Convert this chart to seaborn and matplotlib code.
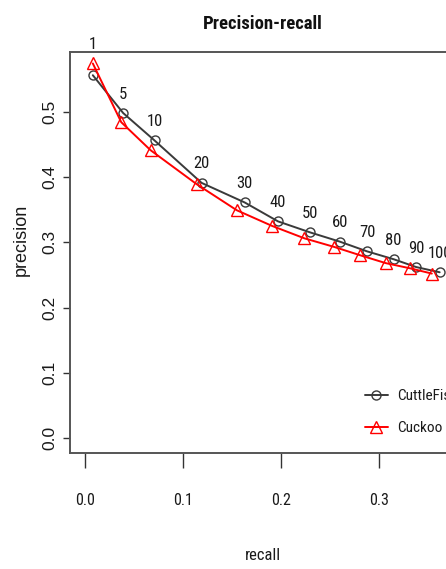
"""precision-recall: cuttlefish vs cuckoo, estilo plot base do R."""

import matplotlib

matplotlib.use("Agg")
import matplotlib.pyplot as plt
import pandas as pd
import seaborn as sns

# valores
k_labels = ["1", "5", "10", "20", "30", "40", "50", "60", "70", "80", "90", "100"]
cuttle_recall = [0.008, 0.039, 0.071, 0.119, 0.163, 0.197, 0.230, 0.260, 0.288, 0.315, 0.338, 0.362]
cuttle_precision = [0.556, 0.498, 0.456, 0.391, 0.361, 0.332, 0.315, 0.301, 0.286, 0.274, 0.262, 0.254]
cuckoo_recall = [0.008, 0.037, 0.067, 0.114, 0.155, 0.191, 0.224, 0.254, 0.281, 0.307, 0.332, 0.354]
cuckoo_precision = [0.574, 0.484, 0.441, 0.389, 0.349, 0.325, 0.306, 0.293, 0.280, 0.268, 0.260, 0.252]
x_ticks = [0.0, 0.1, 0.2, 0.3]
y_ticks = [0.0, 0.1, 0.2, 0.3, 0.4, 0.5]

NARROW = ["Roboto Condensed", "Liberation Sans Narrow", "DejaVu Sans"]
WIDE = ["Liberation Sans", "DejaVu Sans"]
GRAY = "#3a3a3a"
RED = "#ff0000"
INK = "#1a1a1a"

sns.set_style("ticks")
plt.rcParams["font.family"] = NARROW
plt.rcParams["font.stretch"] = "condensed"

W, H = 446, 569
fig = plt.figure(figsize=(W / 100, H / 100), dpi=100)
# caixa do grafico passa da borda direita, como no recorte original
ax = fig.add_axes([70 / W, 1 - 453 / H, 402 / W, 401 / H])

cuttle = pd.DataFrame({"recall": cuttle_recall, "precision": cuttle_precision})
cuckoo = pd.DataFrame({"recall": cuckoo_recall, "precision": cuckoo_precision})

sns.lineplot(data=cuttle, x="recall", y="precision", ax=ax, color=GRAY, lw=1.4,
             marker="o", markersize=6.5, markerfacecolor="none", markeredgecolor=GRAY,
             markeredgewidth=1.0, label="CuttleFish", estimator=None, sort=False)
sns.lineplot(data=cuckoo, x="recall", y="precision", ax=ax, color=RED, lw=1.4,
             marker="^", markersize=8, markerfacecolor="none", markeredgecolor=RED,
             markeredgewidth=1.0, label="Cuckoo", estimator=None, sort=False)

for lab, x, y1, y2 in zip(k_labels, cuttle_recall, cuttle_precision, cuckoo_precision):
    ax.annotate(lab, (x, max(y1, y2)), xytext=(0, 19), textcoords="offset pixels",
                ha="center", va="center", fontsize=12, color=INK,
                annotation_clip=False)

ax.set_xlim(-0.0153, 0.395)
ax.set_ylim(-0.023, 0.5916)
ax.set_xticks(x_ticks)
ax.set_xticklabels([f"{v:.1f}" for v in x_ticks], fontsize=11.5)
ax.set_yticks(y_ticks)
ax.set_yticklabels([f"{v:.1f}" for v in y_ticks], family=WIDE, fontsize=12.5,
                   rotation=90, va="center", stretch="normal")
ax.tick_params(axis="x", length=10.8, width=1.0, color="#333333", pad=18, labelcolor=INK)
ax.tick_params(axis="y", length=5, width=1.0, color="#333333", pad=4, labelcolor=INK)
ax.set_xlabel("")
ax.set_ylabel("")
for sp in ax.spines.values():
    sp.set_color("#555555")
    sp.set_linewidth(1.4)

leg = ax.legend(loc="upper left", bbox_to_anchor=(365 / W, 1 - 389 / H),
                bbox_transform=fig.transFigure, frameon=False, borderpad=0,
                borderaxespad=0, handlelength=1.5, handletextpad=0.6,
                labelspacing=1.2, prop={"size": 11})
for txt in leg.get_texts():
    txt.set_color(INK)

fig.text(263 / W, 1 - 24 / H, "Precision-recall", ha="center", va="center",
         fontsize=13.5, fontweight="bold", color="#111111")
fig.text(263 / W, 1 - 556 / H, "recall", ha="center", va="center",
         fontsize=12, color=INK)
fig.text(21 / W, 1 - 240 / H, "precision", ha="center", va="center",
         fontsize=13, family=WIDE, stretch="normal", rotation=90, color=INK)

fig.savefig("out.png", dpi=100)
